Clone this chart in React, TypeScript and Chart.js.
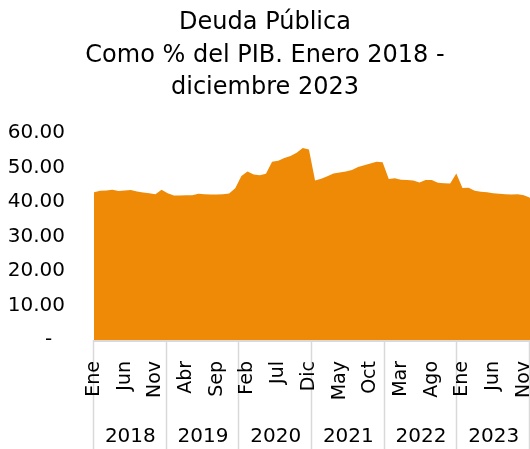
import React, { useEffect, useRef } from "react";
import { Chart, registerables } from "chart.js";

Chart.register(...registerables);

const years = ["2018", "2019", "2020", "2021", "2022", "2023"];
const months = ["Ene", "Feb", "Mar", "Abr", "May", "Jun", "Jul", "Ago", "Sep", "Oct", "Nov", "Dic"];
const categories: string[] = years.flatMap((y) => months.map((m) => `${m} ${y}`));
const monthLabels: string[] = years.flatMap(() => months);

const deuda2018 = [42.9, 43.3, 43.4, 43.6, 43.2, 43.4, 43.5, 43.1, 42.8, 42.6, 42.3, 43.6];
const deuda2019 = [42.6, 41.9, 41.9, 42.0, 42.0, 42.4, 42.3, 42.2, 42.2, 42.3, 42.5, 44.0];
const deuda2020 = [47.6, 48.9, 48.0, 47.8, 48.2, 51.7, 52.0, 52.8, 53.4, 54.3, 55.7, 55.3];
const deuda2021 = [46.3, 46.8, 47.5, 48.3, 48.6, 48.9, 49.3, 50.2, 50.7, 51.2, 51.7, 51.6];
const deuda2022 = [46.7, 46.9, 46.5, 46.4, 46.3, 45.7, 46.4, 46.4, 45.6, 45.5, 45.4, 48.3];
const deuda2023 = [44.1, 44.2, 43.3, 43.0, 42.9, 42.6, 42.4, 42.3, 42.2, 42.3, 42.0, 41.3];
const values = [...deuda2018, ...deuda2019, ...deuda2020, ...deuda2021, ...deuda2022, ...deuda2023];

const titleLines = ["Deuda Pública", "Como % del PIB. Enero 2018 -", "diciembre 2023"];
const FONT = "'DejaVu Sans', sans-serif";
const ORANGE = "#EF8A07";

const axisPlugin = {
  id: "catAxis",
  afterDraw(chart: any) {
    const { ctx, chartArea } = chart;
    const xs = chart.scales.x;
    const { left, right, bottom } = chartArea;
    const h = chart.height;
    const seg = (right - left) / years.length;
    ctx.save();
    ctx.strokeStyle = "#D9D9D9";
    ctx.lineWidth = 2;
    ctx.beginPath();
    ctx.moveTo(left, bottom + 1);
    ctx.lineTo(right, bottom + 1);
    ctx.stroke();
    ctx.lineWidth = 1.5;
    for (let k = 0; k <= years.length; k++) {
      const x = Math.round(left + k * seg) - 0.5;
      ctx.beginPath();
      ctx.moveTo(x, bottom);
      ctx.lineTo(x, h);
      ctx.stroke();
    }
    ctx.fillStyle = "#000";
    ctx.font = `19px ${FONT}`;
    ctx.textAlign = "right";
    ctx.textBaseline = "middle";
    monthLabels.forEach((m, i) => {
      if (i % 5 !== 0) return;
      const x = xs.getPixelForValue(i);
      ctx.save();
      ctx.translate(x, bottom + 21);
      ctx.rotate(-Math.PI / 2);
      ctx.fillText(m, 0, 0);
      ctx.restore();
    });
    ctx.font = `20px ${FONT}`;
    ctx.textAlign = "center";
    years.forEach((y, k) => {
      ctx.fillText(y, left + (k + 0.5) * seg, 437);
    });
    ctx.restore();
  },
};

export default function App() {
  const ref = useRef<HTMLCanvasElement>(null);
  useEffect(() => {
    document.body.style.margin = "0";
    const chart = new Chart(ref.current!, {
      type: "line",
      data: {
        labels: categories,
        datasets: [
          {
            data: values,
            fill: "origin",
            backgroundColor: ORANGE,
            borderColor: ORANGE,
            borderWidth: 0,
            pointRadius: 0,
            tension: 0,
          },
        ],
      },
      options: {
        animation: false,
        responsive: false,
        maintainAspectRatio: false,
        layout: { padding: { left: 0, right: 0, top: 0, bottom: 0 } },
        plugins: {
          legend: { display: false },
          tooltip: { enabled: false },
          title: {
            display: true,
            text: titleLines,
            color: "#000",
            font: { family: FONT, size: 24, weight: "normal", lineHeight: 1.35 },
            padding: { top: 7, bottom: 29 },
          },
        },
        scales: {
          x: {
            offset: false,
            grid: { display: false, drawTicks: false },
            border: { display: false },
            ticks: { display: false },
            afterFit: (scale: any) => {
              scale.height = 109;
              scale.paddingLeft = 0;
              scale.paddingRight = 0;
            },
          },
          y: {
            min: 0,
            max: 60,
            grid: { display: false, drawTicks: false },
            border: { display: false },
            afterFit: (scale: any) => {
              scale.width = 94;
            },
            ticks: {
              stepSize: 10,
              padding: 29,
              color: "#000",
              font: { family: FONT, size: 20 },
              callback: (v: any) => (Number(v) === 0 ? "-  " : Number(v).toFixed(2)),
            },
          },
        },
      },
      plugins: [axisPlugin],
    });
    return () => chart.destroy();
  }, []);
  return (
    <div style={{ position: "absolute", left: 0, top: 0, width: 530, height: 449 }}>
      <canvas ref={ref} width={530} height={449} />
    </div>
  );
}
